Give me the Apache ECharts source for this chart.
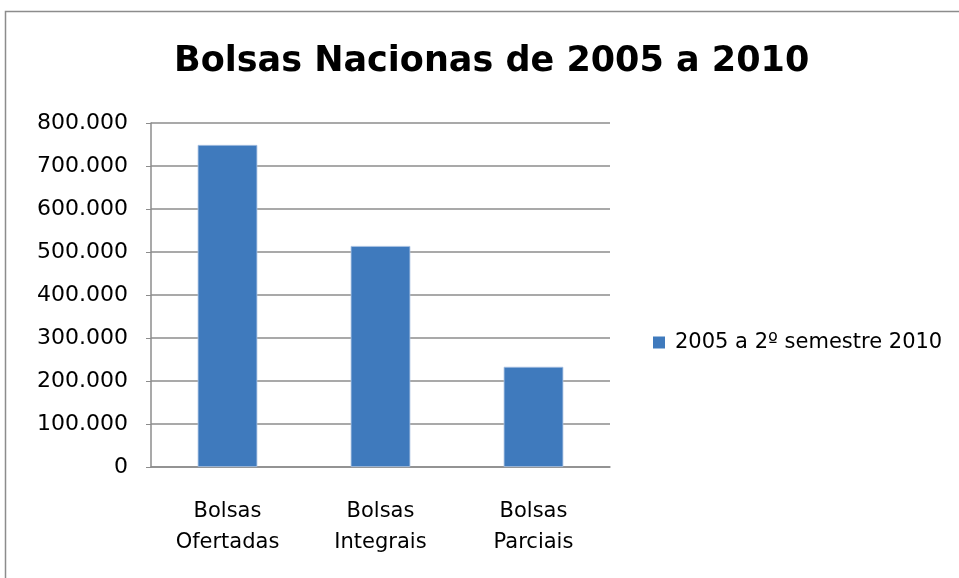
<!DOCTYPE html>
<html>
<head>
<meta charset="utf-8">
<script src="https://cdn.jsdelivr.net/npm/echarts@6/dist/echarts.min.js"></script>
<style>
  html, body { margin: 0; padding: 0; background: #fff; }
  #chart { width: 959px; height: 578px; }
</style>
</head>
<body>
<div id="chart"></div>
<script>
// dados
var categorias = ['Bolsas\nOfertadas', 'Bolsas\nIntegrais', 'Bolsas\nParciais'];
var valores = [749000, 514000, 233000];
var nomeSerie = '2005 a 2º semestre 2010';
var titulo = 'Bolsas Nacionas de 2005 a 2010';

function fmt(v) {
  // separador de milhar com ponto
  return String(v).replace(/\B(?=(\d{3})+(?!\d))/g, '.');
}

var fonte = 'DejaVu Sans';

var chart = echarts.init(document.getElementById('chart'));
chart.setOption({
  backgroundColor: '#fff',
  animation: false,
  graphic: [{
    type: 'rect',
    shape: { x: 5.5, y: 11.5, width: 1000, height: 1000 },
    style: { fill: 'none', stroke: '#8c8c8c', lineWidth: 1.5 },
    silent: true
  }],
  title: {
    text: titulo,
    left: 174,
    top: 44,
    padding: 0,
    textStyle: {
      fontFamily: fonte,
      fontWeight: 'bold',
      fontSize: 35,
      color: '#000'
    }
  },
  legend: {
    data: [nomeSerie],
    left: 648,
    top: 327,
    icon: 'rect',
    itemWidth: 12,
    itemHeight: 12,
    itemStyle: { borderWidth: 0 },
    textStyle: { fontFamily: fonte, fontSize: 21, color: '#000', padding: [0, 0, 0, 5] }
  },
  grid: {
    left: 151,
    right: 349,
    top: 123,
    bottom: 111
  },
  xAxis: {
    type: 'category',
    data: categorias,
    axisLine: { lineStyle: { color: '#8c8c8c', width: 1.5 } },
    axisTick: { show: false },
    axisLabel: {
      fontFamily: fonte,
      fontSize: 21,
      color: '#000',
      lineHeight: 31,
      margin: 29
    }
  },
  yAxis: {
    type: 'value',
    min: 0,
    max: 800000,
    interval: 100000,
    axisLine: { show: true, lineStyle: { color: '#8c8c8c', width: 1.5 } },
    axisTick: { show: true, length: 5, lineStyle: { color: '#8c8c8c' } },
    splitLine: { lineStyle: { color: '#8c8c8c', width: 1.5 } },
    axisLabel: {
      fontFamily: fonte,
      fontSize: 22,
      color: '#000',
      margin: 23,
      formatter: fmt
    }
  },
  series: [{
    name: nomeSerie,
    type: 'bar',
    data: valores,
    barWidth: '39%',
    itemStyle: { color: '#3f7abd', borderColor: '#a9c2e2', borderWidth: 0.8 }
  }]
});
</script>
</body>
</html>
